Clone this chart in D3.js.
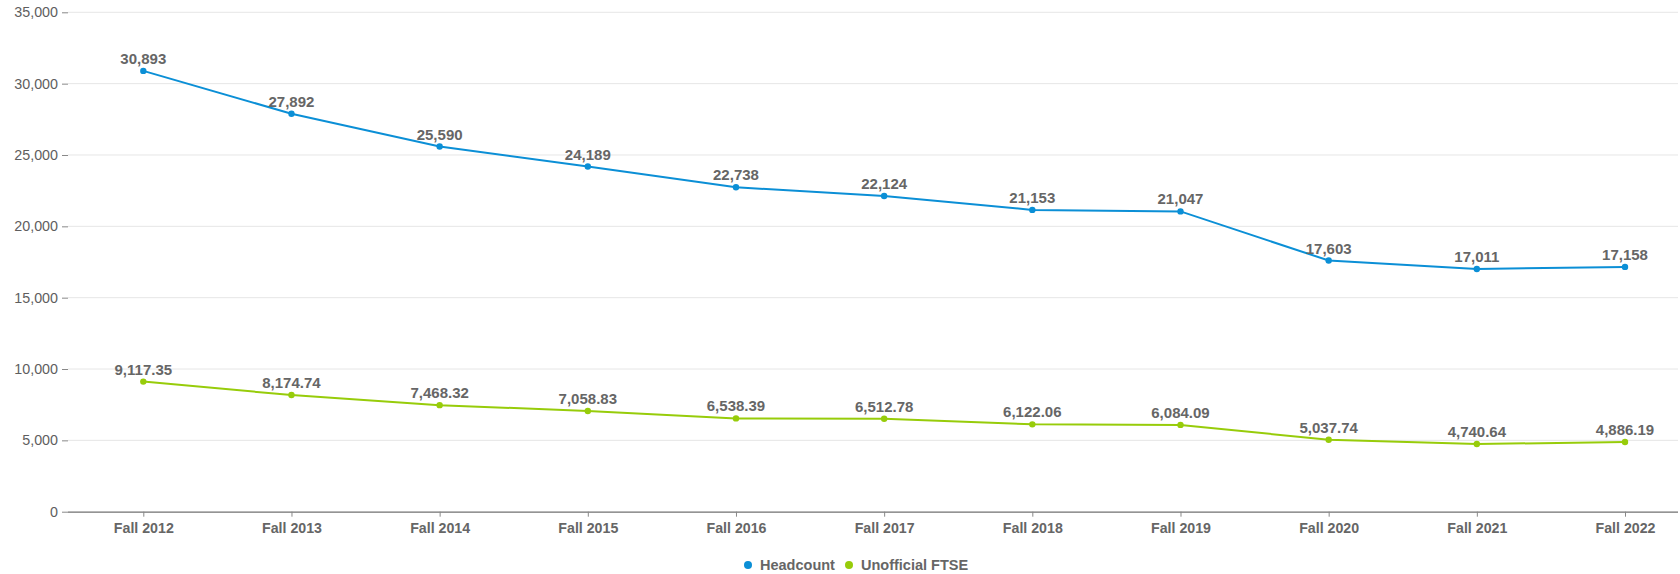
<!DOCTYPE html>
<html><head><meta charset="utf-8">
<script src="https://cdn.jsdelivr.net/npm/d3@7/dist/d3.min.js"></script>
<style>body{margin:0;background:#fff}svg{display:block}text{font-family:"Liberation Sans",Arial,sans-serif}</style>
</head><body>
<svg id="c" width="1680" height="574"></svg>
<script>
const categories = ["Fall 2012","Fall 2013","Fall 2014","Fall 2015","Fall 2016","Fall 2017","Fall 2018","Fall 2019","Fall 2020","Fall 2021","Fall 2022"];
const headcount = [30893,27892,25590,24189,22738,22124,21153,21047,17603,17011,17158];
const ftse = [9117.35,8174.74,7468.32,7058.83,6538.39,6512.78,6122.06,6084.09,5037.74,4740.64,4886.19];
const yTicks = [0,5000,10000,15000,20000,25000,30000,35000];
const seriesNames = ["Headcount","Unofficial FTSE"];
const colors = ["#0b8fd6","#97cc0a"];

(function(){
const svg = d3.select("#c");
const mLeft = 68, mRight = 1678, mTop = 12.3, mBottom = 511.7;
const x = d3.scalePoint().domain(categories).range([143.3, 1625]);
const y = d3.scaleLinear().domain([0,35000]).range([mBottom, mTop]);
const fmt0 = d3.format(",.0f"), fmt2 = d3.format(",.2f");

svg.append("g").selectAll("line").data(yTicks.filter(d=>d>0)).join("line")
  .attr("x1",mLeft).attr("x2",mRight).attr("y1",d=>y(d)).attr("y2",d=>y(d))
  .attr("stroke","#e6e6e6").attr("stroke-width",1);

const ya = svg.append("g").attr("transform",`translate(${mLeft},0)`)
  .call(d3.axisLeft(y).tickValues(yTicks).tickFormat(d3.format(",")).tickSize(6).tickPadding(4));
ya.select(".domain").remove();
ya.selectAll(".tick line").attr("stroke","#888");
ya.selectAll("text").attr("fill","#5e5e5e").attr("font-size","14.3px");

const xa = svg.append("g").attr("transform",`translate(0,${mBottom})`)
  .call(d3.axisBottom(x).tickSize(5).tickPadding(6).tickSizeOuter(0));
xa.select(".domain").attr("d",`M${mLeft},0.5H${mRight}`).attr("stroke","#707070").attr("stroke-width",1.2);
xa.selectAll(".tick line").attr("stroke","#888");
xa.selectAll("text").attr("fill","#666").attr("font-size","14.2px").attr("font-weight","bold");

const series = [{name:seriesNames[0], vals:headcount, fmt:fmt0, c:colors[0]},
                {name:seriesNames[1], vals:ftse, fmt:fmt2, c:colors[1]}];
const line = d3.line().x((d,i)=>x(categories[i])).y(d=>y(d));
series.forEach(s=>{
  svg.append("path").attr("d",line(s.vals)).attr("fill","none").attr("stroke",s.c).attr("stroke-width",2);
  svg.append("g").selectAll("circle").data(s.vals).join("circle")
    .attr("cx",(d,i)=>x(categories[i])).attr("cy",d=>y(d)).attr("r",3.2).attr("fill",s.c);
  svg.append("g").selectAll("text").data(s.vals).join("text")
    .attr("x",(d,i)=>x(categories[i])).attr("y",d=>y(d)-7)
    .attr("text-anchor","middle").attr("fill","#666").attr("font-size","15px").attr("font-weight","bold")
    .text(d=>s.fmt(d));
});

const lg = svg.append("g").attr("transform","translate(0,565)");
const items = [{x:748,name:seriesNames[0],c:colors[0]},{x:849,name:seriesNames[1],c:colors[1]}];
items.forEach(it=>{
  lg.append("circle").attr("cx",it.x).attr("cy",0).attr("r",4).attr("fill",it.c);
  lg.append("text").attr("x",it.x+12).attr("y",5).attr("fill","#666").attr("font-size","14.5px").attr("font-weight","bold").text(it.name);
});
})();
</script>
</body></html>
